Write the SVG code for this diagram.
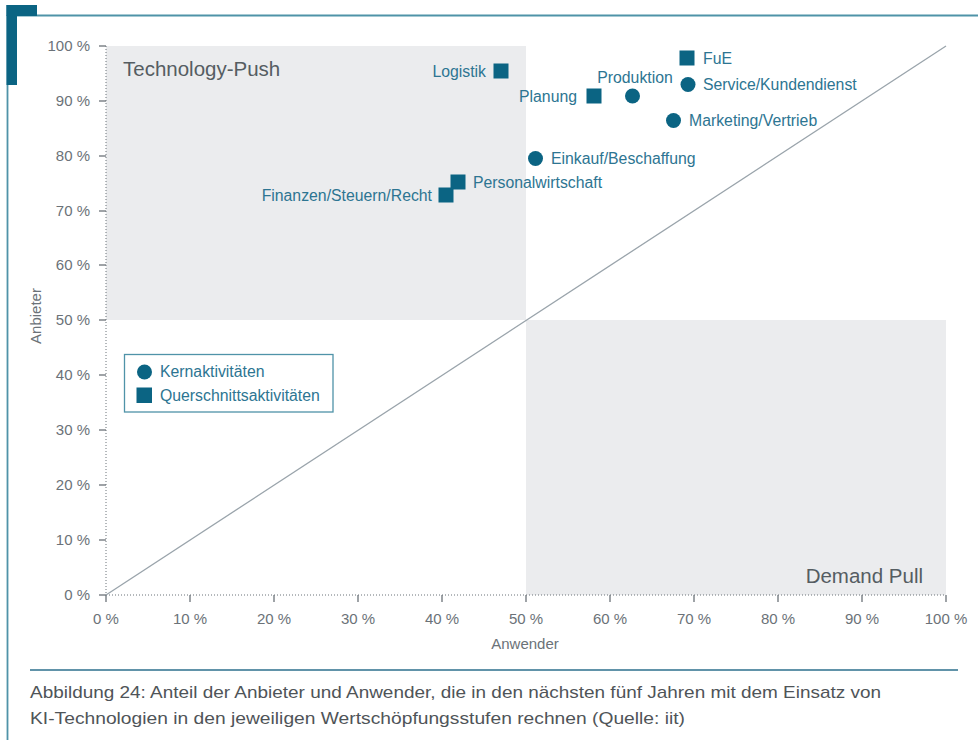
<svg xmlns="http://www.w3.org/2000/svg" width="978" height="740" viewBox="0 0 978 740">
<style>
text{font-family:"Liberation Sans",Arial,sans-serif}
.ax{font-size:15px;fill:#6b7278}
.lbl{font-size:15.8px;fill:#2d7592}
.zone{font-size:20.5px;fill:#555d62}
.cap{font-size:17px;fill:#4f5458}
.dot{stroke:#6b7278;stroke-width:1;stroke-dasharray:1 2;fill:none}
.tick{stroke:#6b7278;stroke-width:1.3}
.mk{fill:#0b6483}
</style>
<rect width="978" height="740" fill="#ffffff"/>
<g id="frame">
<line x1="7" y1="15.5" x2="978" y2="15.5" stroke="#4f93a8" stroke-width="1.8"/>
<line x1="7.5" y1="15" x2="7.5" y2="740" stroke="#4f93a8" stroke-width="1.8"/>
<rect x="6.5" y="5" width="30.5" height="11" fill="#0b6483"/>
<rect x="6.5" y="5" width="10.5" height="80" fill="#0b6483"/>
</g>
<g id="zones">
<rect x="106" y="46" width="420" height="274" fill="#ebecee"/>
<rect x="526" y="320" width="420" height="275" fill="#ebecee"/>
<text class="zone" x="123" y="76">Technology-Push</text>
<text class="zone" x="923" y="583" text-anchor="end">Demand Pull</text>
</g>
<g id="axes">
<line class="dot" x1="106" y1="46" x2="106" y2="595"/>
<line class="dot" x1="106" y1="595" x2="946" y2="595"/>
<g class="tick">
<line x1="99" y1="46" x2="106" y2="46"/><line x1="99" y1="101" x2="106" y2="101"/><line x1="99" y1="156" x2="106" y2="156"/><line x1="99" y1="211" x2="106" y2="211"/><line x1="99" y1="265" x2="106" y2="265"/><line x1="99" y1="320" x2="106" y2="320"/><line x1="99" y1="375" x2="106" y2="375"/><line x1="99" y1="430" x2="106" y2="430"/><line x1="99" y1="485" x2="106" y2="485"/><line x1="99" y1="540" x2="106" y2="540"/><line x1="99" y1="595" x2="106" y2="595"/>
<line x1="106" y1="595" x2="106" y2="602"/><line x1="190" y1="595" x2="190" y2="602"/><line x1="274" y1="595" x2="274" y2="602"/><line x1="358" y1="595" x2="358" y2="602"/><line x1="442" y1="595" x2="442" y2="602"/><line x1="526" y1="595" x2="526" y2="602"/><line x1="610" y1="595" x2="610" y2="602"/><line x1="694" y1="595" x2="694" y2="602"/><line x1="778" y1="595" x2="778" y2="602"/><line x1="862" y1="595" x2="862" y2="602"/><line x1="946" y1="595" x2="946" y2="602"/>
</g>
<g class="ax" text-anchor="end">
<text x="90" y="51">100 %</text><text x="90" y="106">90 %</text><text x="90" y="161">80 %</text><text x="90" y="216">70 %</text><text x="90" y="270">60 %</text><text x="90" y="325">50 %</text><text x="90" y="380">40 %</text><text x="90" y="435">30 %</text><text x="90" y="490">20 %</text><text x="90" y="545">10 %</text><text x="90" y="600">0 %</text>
</g>
<g class="ax" text-anchor="middle">
<text x="106" y="624">0 %</text><text x="190" y="624">10 %</text><text x="274" y="624">20 %</text><text x="358" y="624">30 %</text><text x="442" y="624">40 %</text><text x="526" y="624">50 %</text><text x="610" y="624">60 %</text><text x="694" y="624">70 %</text><text x="778" y="624">80 %</text><text x="862" y="624">90 %</text><text x="946" y="624">100 %</text>
</g>
<text class="ax" x="525" y="649" text-anchor="middle">Anwender</text>
<text class="ax" x="0" y="0" text-anchor="middle" transform="translate(41 316) rotate(-90)">Anbieter</text>
</g>
<g id="connectors">
<line x1="106" y1="595" x2="946" y2="46" stroke="#9aa4ab" stroke-width="1.3"/>
</g>
<g id="n-logistik"><rect class="mk" x="493.5" y="63.5" width="15" height="15"/><text class="lbl" x="486" y="77" text-anchor="end">Logistik</text></g>
<g id="n-fue"><rect class="mk" x="679.5" y="50.5" width="15" height="15"/><text class="lbl" x="703" y="64">FuE</text></g>
<g id="n-planung"><rect class="mk" x="586.5" y="88.5" width="15" height="15"/><text class="lbl" x="577" y="102" text-anchor="end">Planung</text></g>
<g id="n-produktion"><circle class="mk" cx="632.5" cy="96" r="7.5"/><text class="lbl" x="635" y="83" text-anchor="middle">Produktion</text></g>
<g id="n-service"><circle class="mk" cx="688" cy="84.5" r="7.5"/><text class="lbl" x="703" y="90">Service/Kundendienst</text></g>
<g id="n-marketing"><circle class="mk" cx="673.5" cy="120.5" r="7.5"/><text class="lbl" x="689" y="126">Marketing/Vertrieb</text></g>
<g id="n-einkauf"><circle class="mk" cx="535.5" cy="158.5" r="7.5"/><text class="lbl" x="551" y="164">Einkauf/Beschaffung</text></g>
<g id="n-personal"><rect class="mk" x="450.5" y="174.5" width="15" height="15"/><text class="lbl" x="473" y="188">Personalwirtschaft</text></g>
<g id="n-finanzen"><rect class="mk" x="438.5" y="187.5" width="15" height="15"/><text class="lbl" x="432" y="201" text-anchor="end">Finanzen/Steuern/Recht</text></g>
<g id="legend">
<rect x="124.5" y="354.5" width="208.5" height="57.5" fill="#ffffff" stroke="#4f93a8" stroke-width="1.3"/>
<circle class="mk" cx="144.5" cy="372" r="7.5"/>
<text class="lbl" x="160" y="377">Kernaktivitäten</text>
<rect class="mk" x="136.5" y="387.5" width="15.5" height="15.5"/>
<text class="lbl" x="160" y="401">Querschnittsaktivitäten</text>
</g>
<g id="caption">
<line x1="30" y1="670" x2="958" y2="670" stroke="#2c6f8c" stroke-width="1.5"/>
<text class="cap" x="30" y="698" textLength="851" lengthAdjust="spacingAndGlyphs">Abbildung 24: Anteil der Anbieter und Anwender, die in den nächsten fünf Jahren mit dem Einsatz von</text>
<text class="cap" x="30" y="724" textLength="655" lengthAdjust="spacingAndGlyphs">KI-Technologien in den jeweiligen Wertschöpfungsstufen rechnen (Quelle: iit)</text>
</g>
</svg>
